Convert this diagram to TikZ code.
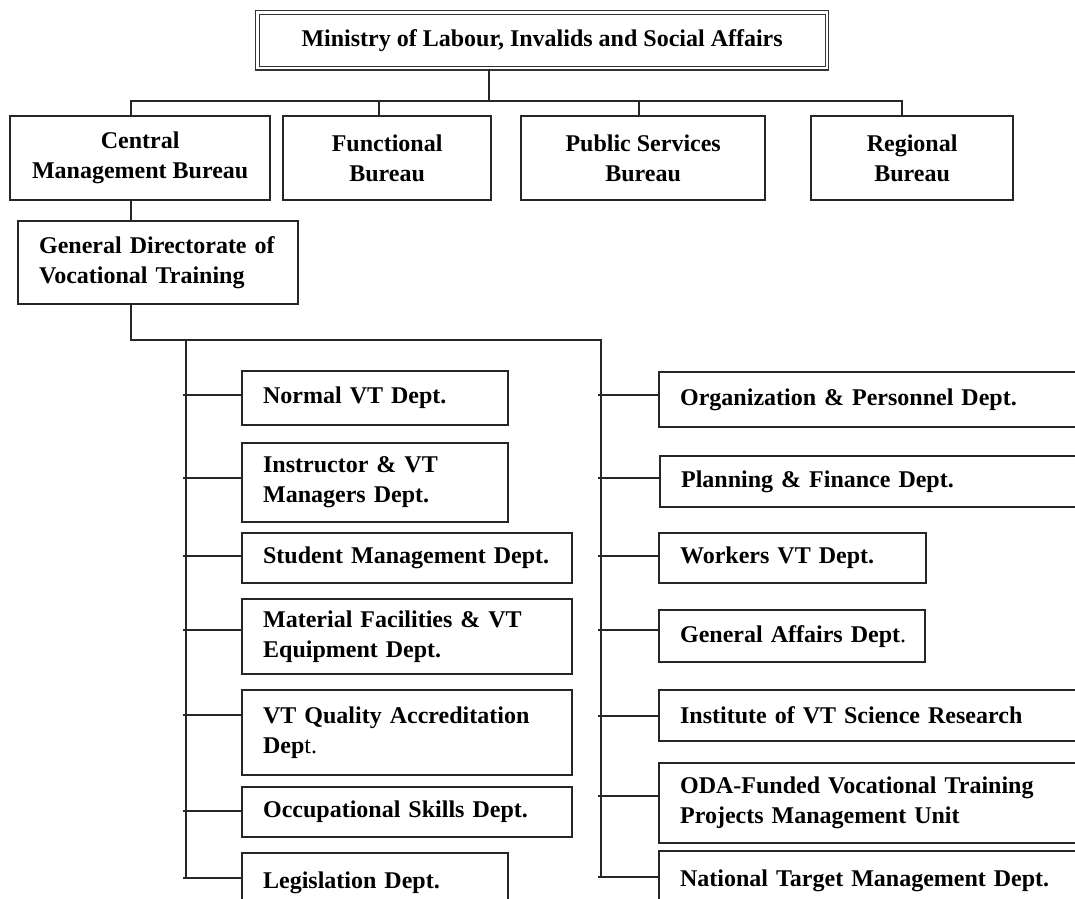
\documentclass[tikz,border=0pt]{standalone}
\usepackage{fontspec}
\setmainfont{Liberation Serif}
\begin{document}
\begin{tikzpicture}[x=1pt,y=-1pt,
  txt/.style={font=\bfseries\fontsize{24}{30}\selectfont, text=black},
  box/.style={txt, draw=black!85, line width=2.3pt, rectangle, anchor=north west},
  cbox/.style={box, align=center, inner sep=0pt},
  lbox/.style={box, align=left, inner xsep=21pt, inner ysep=0pt},
  topbox/.style={txt, draw=black!80, double=white, line width=1.3pt, double distance=2.2pt,
                 rectangle, anchor=north west, inner sep=0pt, align=center},
  conn/.style={draw=black!85, line width=2.9pt, line join=miter}
]
\useasboundingbox (0,0) rectangle (1075,898);
\clip (0,0) rectangle (1075,898);

% ministry
\node[topbox, minimum width=569.5pt, minimum height=55.75pt] (min) at (256.75,11.75)
  {Ministry of Labour, Invalids and Social Affairs};

% bureaus
\node[cbox, minimum width=260pt, minimum height=84pt] (cmb) at (9,115) {Central\\Management Bureau};
\node[cbox, minimum width=208pt, minimum height=84pt] (fun) at (282,115) {Functional\\Bureau};
\node[cbox, minimum width=244pt, minimum height=84pt] (pub) at (520,115) {Public Services\\Bureau};
\node[cbox, minimum width=202pt, minimum height=84pt] (reg) at (810,115) {Regional\\Bureau};

% directorate
\node[lbox, text width=238pt, minimum height=83pt] (gdvt) at (17,220) {General Directorate of\\Vocational Training};

% left column of departments
\node[lbox, text width=224pt, minimum height=54pt] (nvt) at (241,370) {Normal VT Dept.};
\node[lbox, text width=224pt, minimum height=79pt] (ins) at (241,442) {Instructor \& VT\\Managers Dept.};
\node[lbox, text width=288pt, minimum height=50pt] (stu) at (241,532) {\mbox{Student Management Dept.}};
\node[lbox, text width=288pt, minimum height=75pt] (mat) at (241,598) {Material Facilities \& VT\\Equipment Dept.};
\node[lbox, text width=288pt, minimum height=85pt] (vtq) at (241,689) {VT Quality Accreditation\\Dep\textmd{t.}};
\node[lbox, text width=288pt, minimum height=50pt] (occ) at (241,786) {\mbox{Occupational Skills Dept.}};
\node[lbox, text width=224pt, minimum height=60pt] (leg) at (241,852) {Legislation Dept.};

% right column of departments
\node[lbox, text width=385pt, minimum height=55pt] (org) at (658,371) {Organization \& Personnel Dept.};
\node[lbox, text width=384pt, minimum height=51pt] (pla) at (659,455) {Planning \& Finance Dept.};
\node[lbox, text width=225pt, minimum height=50pt] (wrk) at (658,532) {Workers VT Dept.};
\node[lbox, text width=224pt, minimum height=52pt] (gen) at (658,609) {\mbox{General Affairs Dept\textmd{.}}};
\node[lbox, text width=385pt, minimum height=51pt] (ivs) at (658,689) {Institute of VT Science Research};
\node[lbox, text width=385pt, minimum height=80pt] (oda) at (658,762) {ODA-Funded Vocational Training\\Projects Management Unit};
\node[lbox, text width=385pt, minimum height=60pt] (ntm) at (658,850) {National Target Management Dept.};

% ministry to bureaus
\coordinate (stem) at (489,101);
\coordinate (bl) at (131,101);
\coordinate (br) at (902,101);
\coordinate (d2) at (379,101);
\coordinate (d3) at (639,101);
\draw[conn] (stem |- min.south) -- (stem);
\draw[conn] (bl |- cmb.north) -- (bl) -- (br) -- (br |- reg.north);
\draw[conn] (d2) -- (d2 |- fun.north);
\draw[conn] (d3) -- (d3 |- pub.north);

% central bureau to directorate
\draw[conn] (bl |- cmb.south) -- (bl |- gdvt.north);

% directorate to the two spines
\coordinate (gb) at (131,340);
\coordinate (ls) at (186,340);
\coordinate (lsb) at (186,878);
\coordinate (rs) at (601,340);
\coordinate (rsb) at (601,877);
\draw[conn] (gb |- gdvt.south) -- (gb) -- (rs) -- (rsb);
\draw[conn] (ls) -- (lsb);

% left spine branches
\coordinate (l1) at (183,395);
\coordinate (l2) at (183,478);
\coordinate (l3) at (183,556);
\coordinate (l4) at (183,630);
\coordinate (l5) at (183,715);
\coordinate (l6) at (183,811);
\coordinate (l7) at (183,878);
\draw[conn] (l1) -- (l1 -| nvt.west);
\draw[conn] (l2) -- (l2 -| ins.west);
\draw[conn] (l3) -- (l3 -| stu.west);
\draw[conn] (l4) -- (l4 -| mat.west);
\draw[conn] (l5) -- (l5 -| vtq.west);
\draw[conn] (l6) -- (l6 -| occ.west);
\draw[conn] (l7) -- (l7 -| leg.west);

% right spine branches
\coordinate (r1) at (598,395);
\coordinate (r2) at (598,478);
\coordinate (r3) at (598,556);
\coordinate (r4) at (598,630);
\coordinate (r5) at (598,716);
\coordinate (r6) at (598,796);
\coordinate (r7) at (598,877);
\draw[conn] (r1) -- (r1 -| org.west);
\draw[conn] (r2) -- (r2 -| pla.west);
\draw[conn] (r3) -- (r3 -| wrk.west);
\draw[conn] (r4) -- (r4 -| gen.west);
\draw[conn] (r5) -- (r5 -| ivs.west);
\draw[conn] (r6) -- (r6 -| oda.west);
\draw[conn] (r7) -- (r7 -| ntm.west);
\end{tikzpicture}
\end{document}
